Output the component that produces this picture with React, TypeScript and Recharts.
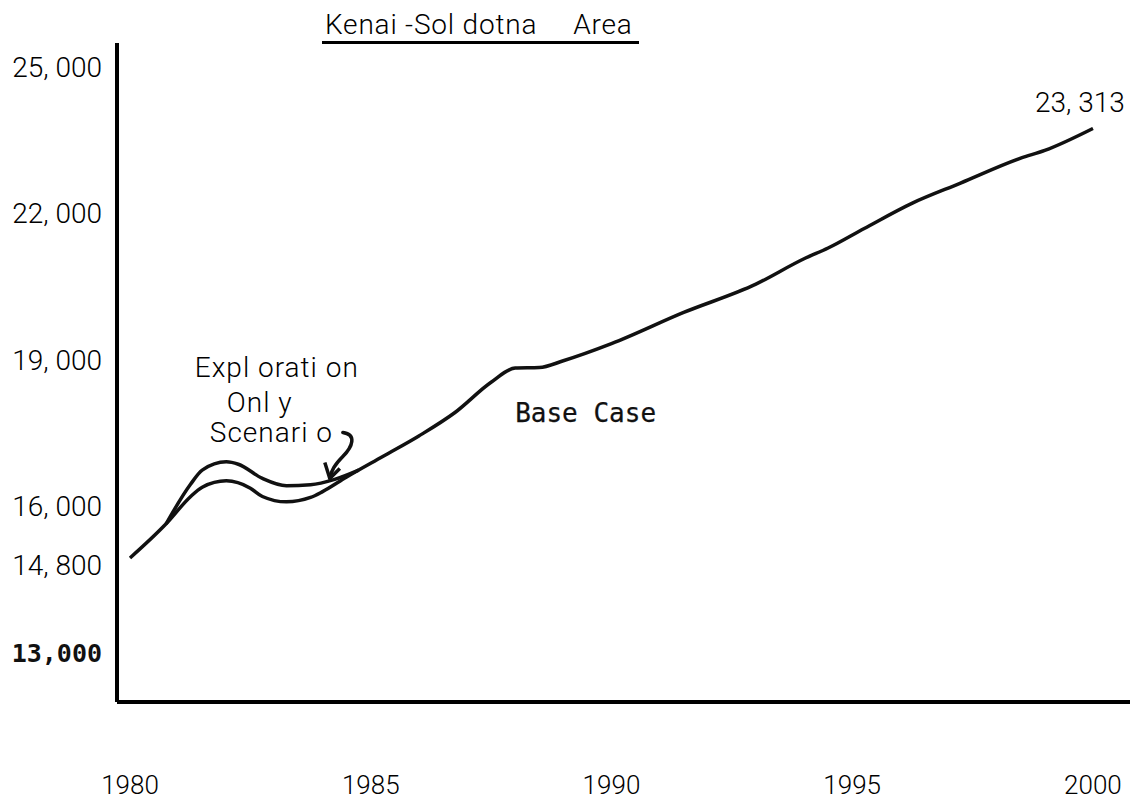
import { LineChart, Line, XAxis, YAxis, ReferenceDot } from "recharts";
import { type JSX } from "react";

// Base case population
const baseYears = [
  1980, 1980.75, 1981.25, 1981.5, 1982, 1982.5, 1982.75, 1983.25, 1983.75, 1984,
  1984.5, 1985.25, 1986, 1986.75, 1987.5, 1988, 1988.5, 1989, 1990, 1991.5, 1993,
  1994, 1994.5, 1995.25, 1996.25, 1997.25, 1998.5, 1999, 2000,
];
const baseCase = [
  14950, 15650, 16200, 16400, 16530, 16380, 16210, 16100, 16190, 16310, 16610,
  17030, 17450, 17930, 18550, 18840, 18850, 18990, 19340, 19980, 20560, 21080,
  21300, 21700, 22220, 22630, 23140, 23300, 23750,
];

// Exploration only scenario (splits off the base case 1980-1985)
const explYears = [1980.75, 1981.25, 1981.5, 1982, 1982.25, 1982.75, 1983.25, 1983.75, 1984.25, 1984.75];
const exploration = [15650, 16450, 16750, 16920, 16870, 16580, 16430, 16450, 16560, 16750];

const yearTicks = [1980, 1985, 1990, 1995, 2000];
const popTicks = [13000, 14800, 16000, 19000, 22000, 25000];

const titleParts = ["Kenai -Sol dotna", "Area"];
const endLabel = "23, 313";
const explLabel = ["Expl orati on", "Onl y", "Scenari o"];
const baseLabel = "Base Case";

const baseData = baseYears.map((year, i) => ({ year, pop: baseCase[i] }));
const explData = explYears.map((year, i) => ({ year, pop: exploration[i] }));

const sans = "Roboto, 'Liberation Sans Narrow', sans-serif";
const mono = "'DejaVu Sans Mono', monospace";
const ink = "#111";
const textInk = "#000";

const fmt = (v: number) => {
  const s = String(v);
  return s.slice(0, s.length - 3) + ", " + s.slice(-3);
};

const YTick = ({ x, y, payload }: any) => {
  if (payload.value === 13000) {
    return (
      <text x={x} y={y} textAnchor="end" dominantBaseline="central" fontFamily={mono} fontWeight="bold" fontSize={25} fill={ink}>
        13,000
      </text>
    );
  }
  return (
    <text x={x} y={y} textAnchor="end" dominantBaseline="central" fontFamily={sans} fontWeight={300} fontSize={28} fill={textInk}>
      {fmt(payload.value)}
    </text>
  );
};

const XTick = ({ x, y, payload }: any) => (
  <text x={x} y={y + 81} textAnchor="middle" dominantBaseline="central" fontFamily={sans} fontWeight={300} fontSize={26} fill={textInk}>
    {payload.value}
  </text>
);

const App = (): JSX.Element => {
  return (
    <div style={{ position: "absolute", left: 0, top: 0, width: 1130, height: 802, background: "#fff" }}>
      <div
        style={{
          position: "absolute",
          left: 322,
          top: 11,
          fontFamily: sans,
          fontWeight: 300,
          fontSize: 28,
          lineHeight: "28px",
          letterSpacing: 0.8,
          color: textInk,
          whiteSpace: "pre",
        }}
      >
        <span style={{ display: "inline-block", paddingBottom: 2, paddingLeft: 3, paddingRight: 6, borderBottom: "3px solid #000" }}>
          {titleParts[0]}
          <span style={{ marginLeft: 36 }}>{titleParts[1]}</span>
        </span>
      </div>
      <LineChart width={1130} height={802} margin={{ top: 43, right: 0, bottom: 0, left: 17 }}>
        <XAxis
          type="number"
          dataKey="year"
          domain={[1979.73, 2000.77]}
          ticks={yearTicks}
          tick={<XTick />}
          tickLine={false}
          tickSize={0}
          height={100}
          axisLine={{ stroke: "#000", strokeWidth: 4 }}
          allowDataOverflow
        />
        <YAxis
          type="number"
          domain={[12000, 25500]}
          ticks={popTicks}
          tick={<YTick />}
          tickLine={false}
          tickSize={0}
          tickMargin={15}
          width={100}
          axisLine={{ stroke: "#000", strokeWidth: 4 }}
          allowDataOverflow
        />
        <Line
          data={explData}
          dataKey="pop"
          type="monotone"
          stroke={ink}
          strokeWidth={3.5}
          dot={false}
          isAnimationActive={false}
        />
        <Line
          data={baseData}
          dataKey="pop"
          type="monotone"
          stroke={ink}
          strokeWidth={3.5}
          dot={false}
          isAnimationActive={false}
        />
        <ReferenceDot
          x={2000}
          y={baseCase[baseCase.length - 1]}
          ifOverflow="visible"
          shape={(p: any) => (
            <text x={p.cx - 13} y={p.cy - 26} textAnchor="middle" dominantBaseline="central" fontFamily={sans} fontWeight={300} fontSize={28} fill={textInk}>
              {endLabel}
            </text>
          )}
        />
        <ReferenceDot
          x={1984.15}
          y={16600}
          ifOverflow="visible"
          shape={(p: any) => (
            <g>
              <path
                d={`M${p.cx + 13},${p.cy - 45} C${p.cx + 27},${p.cy - 43} ${p.cx + 23},${p.cy - 31} ${p.cx + 13},${p.cy - 21} S${p.cx + 2},${p.cy - 6} ${p.cx},${p.cy}`}
                fill="none"
                stroke={ink}
                strokeWidth={3.5}
                strokeLinecap="round"
              />
              <path
                d={`M${p.cx - 5},${p.cy - 15} L${p.cx},${p.cy + 1} L${p.cx + 10},${p.cy - 9}`}
                fill="none"
                stroke={ink}
                strokeWidth={3.5}
                strokeLinejoin="round"
              />
              {explLabel.map((t, i) => (
                <text
                  key={t}
                  x={p.cx + [-135, -103, -120][i]}
                  y={p.cy + [-110, -75, -45][i]}
                  dominantBaseline="central"
                  fontFamily={sans}
                  fontWeight={300}
                  fontSize={28}
                  letterSpacing={1}
                  fill={textInk}
                  style={{ whiteSpace: "pre" }}
                >
                  {t}
                </text>
              ))}
            </g>
          )}
        />
        <ReferenceDot
          x={1988}
          y={17930}
          ifOverflow="visible"
          shape={(p: any) => (
            <text
              x={p.cx}
              y={p.cy}
              dominantBaseline="central"
              fontFamily={mono}
              fontSize={26}
              fill={ink}
              stroke={ink}
              strokeWidth={0.25}
              style={{ whiteSpace: "pre" }}
            >
              {baseLabel}
            </text>
          )}
        />
      </LineChart>
    </div>
  );
};

export default App;
